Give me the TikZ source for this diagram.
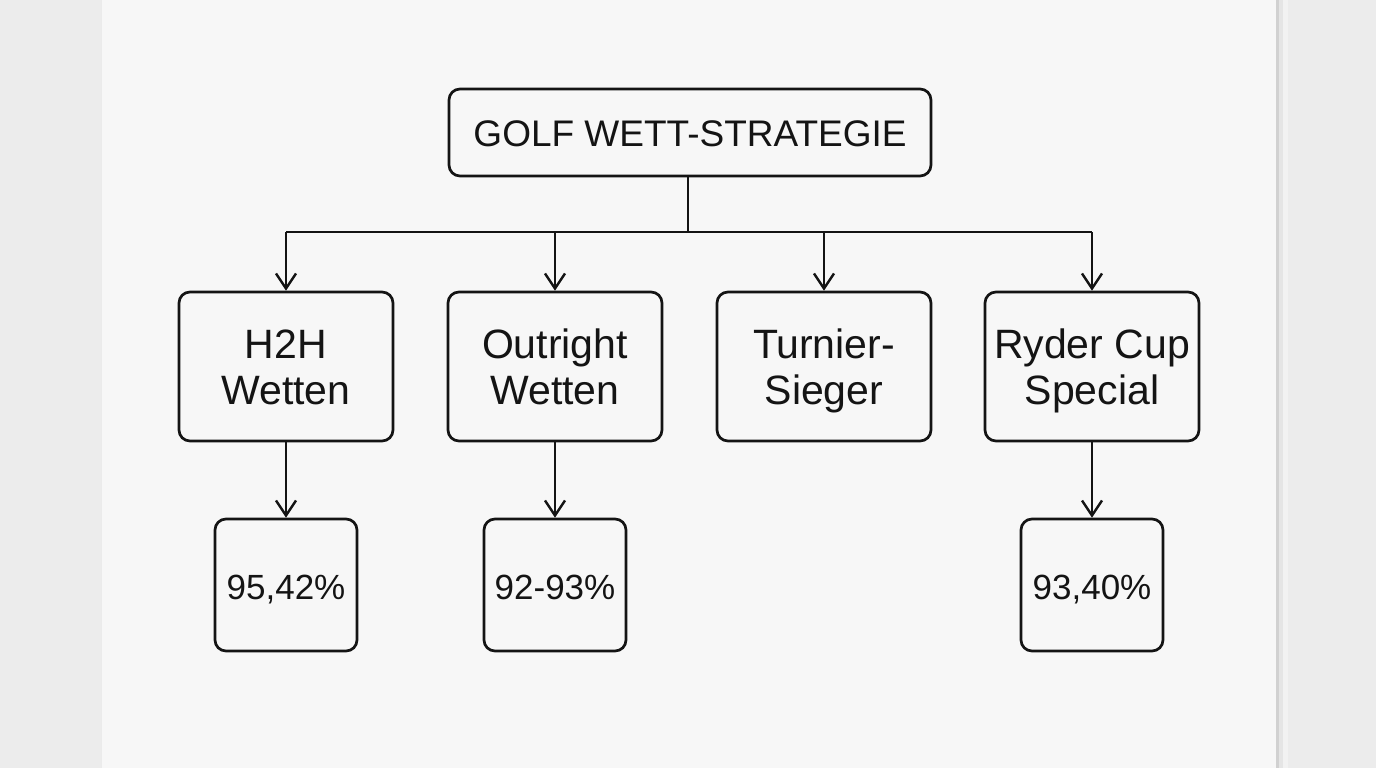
\documentclass[tikz,border=0pt]{standalone}
\usepackage{fontspec}
\setmainfont{Liberation Sans}
\usetikzlibrary{arrows.meta}
\definecolor{bgc}{HTML}{ECECEC}
\definecolor{paper}{HTML}{F7F7F7}
\definecolor{ink}{HTML}{141414}
\newcommand{\topstrut}{\rule{0pt}{38pt}}
\newcommand{\botstrut}{\rule[-9pt]{0pt}{9pt}}
\tikzset{
  box/.style={draw=ink, line width=2.7pt, rounded corners=11pt, fill=paper, inner sep=0pt, align=center, text=ink},
  catbox/.style={box, minimum width=214pt, minimum height=149pt, font=\fontsize{41}{46}\selectfont},
  pctbox/.style={box, minimum width=142pt, minimum height=132pt, font=\fontsize{35}{40}\selectfont, text height=36pt, text depth=8pt},
  conn/.style={draw=ink, line width=2.7pt},
  arr/.style={conn, -{Straight Barb[length=15pt,width=20pt,line width=2.4pt]}},
}
\begin{document}
\begin{tikzpicture}[x=1pt,y=-1pt]
\useasboundingbox (0,0) rectangle (1376,768);
\fill[bgc] (0,0) rectangle (1376,768);
% paper shadow
\fill[black!18] (1276,0) rectangle (1279,768);
\fill[black!10] (1279,0) rectangle (1283,768);
\fill[black!5] (1283,0) rectangle (1288,768);
\fill[paper] (101,0) rectangle (1276,768);
\draw[black!8, line width=1pt] (101,0) -- (101,768);

\node[box, minimum width=482pt, minimum height=87pt, font=\fontsize{37}{44}\selectfont, text height=35pt, text depth=8pt] (title) at (690,132.5) {GOLF WETT-STRATEGIE};

\node[catbox] (h2h) at (286,366.5) {\topstrut H2H\\Wetten\botstrut};
\node[catbox] (out) at (555,366.5) {\topstrut Outright\\Wetten\botstrut};
\node[catbox] (tur) at (824,366.5) {\topstrut Turnier-\\Sieger\botstrut};
\node[catbox] (ryd) at (1092,366.5) {\topstrut Ryder Cup\\Special\botstrut};

\node[pctbox] (p1) at (286,585) {95,42\%};
\node[pctbox] (p2) at (555,585) {92-93\%};
\node[pctbox] (p3) at (1092,585) {93,40\%};

\coordinate (bus) at (688,232);
\draw[conn] (title.south -| bus) -- (bus);
\draw[conn] (h2h.north |- bus) -- (ryd.north |- bus);
\draw[arr] (h2h.north |- bus) -- (h2h.north);
\draw[arr] (out.north |- bus) -- (out.north);
\draw[arr] (tur.north |- bus) -- (tur.north);
\draw[arr] (ryd.north |- bus) -- (ryd.north);

\draw[arr] (h2h.south) -- (p1.north);
\draw[arr] (out.south) -- (p2.north);
\draw[arr] (ryd.south) -- (p3.north);
\end{tikzpicture}
\end{document}
